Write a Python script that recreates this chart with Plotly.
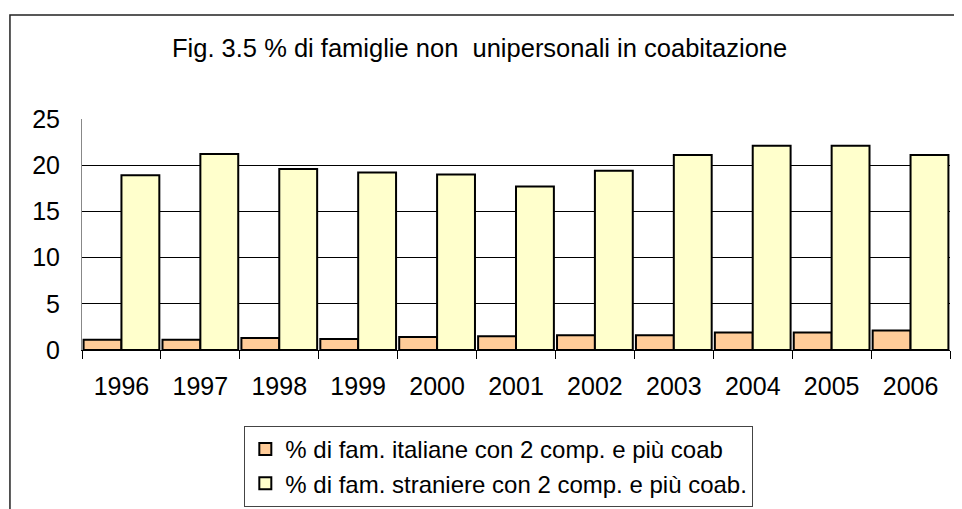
import plotly.graph_objects as go

years = ["1996", "1997", "1998", "1999", "2000", "2001", "2002", "2003", "2004", "2005", "2006"]
italiane = [1.1, 1.1, 1.3, 1.2, 1.4, 1.5, 1.6, 1.6, 1.9, 1.9, 2.1]
straniere = [18.9, 21.2, 19.6, 19.2, 19.0, 17.7, 19.4, 21.1, 22.1, 22.1, 21.1]
name_it = "% di fam. italiane con 2 comp. e più coab"
name_st = "% di fam. straniere con 2 comp. e più coab."
title = "Fig. 3.5 % di famiglie non  unipersonali in coabitazione"

FONT = "Liberation Sans, Arial, sans-serif"

fig = go.Figure()
fig.add_trace(go.Bar(x=years, y=italiane, name=name_it, legendgroup="a",
                     marker=dict(color="#FFCC99", line=dict(color="black", width=2))))
fig.add_trace(go.Bar(x=years, y=straniere, name=name_st, legendgroup="b",
                     marker=dict(color="#FFFFCC", line=dict(color="black", width=2))))

# page has an 8px body margin, so the figure is 8px smaller and margins shifted
fig.update_layout(
    width=954, height=501,
    margin=dict(l=74, r=12, t=111, b=159, autoexpand=False),
    paper_bgcolor="white", plot_bgcolor="white",
    font=dict(family=FONT, size=25, color="black"),
    barmode="group", bargap=0.04, bargroupgap=0,
    showlegend=True,
    legend=dict(x=0.187, y=-0.329, xanchor="left", yanchor="top",
                bordercolor="#444", borderwidth=1, bgcolor="white",
                font=dict(family=FONT, size=24), tracegroupgap=0,
                traceorder="normal"),
    annotations=[dict(text=title, xref="paper", yref="paper", x=0.4585, y=1.307,
                      xanchor="center", yanchor="middle", showarrow=False,
                      font=dict(family=FONT, size=25.5))],
    shapes=[dict(type="rect", xref="paper", yref="paper", x0=-0.083, y0=-0.9,
                 x1=1.1, y1=1.45, line=dict(color="#222", width=1.5), layer="below")],
)
fig.update_xaxes(showline=True, linecolor="black", linewidth=1, ticks="outside",
                 ticklen=8, tickcolor="black", tickson="boundaries",
                 showgrid=False, ticklabelstandoff=14, automargin=False)
fig.update_yaxes(range=[0, 25], dtick=5, showgrid=True, gridcolor="black", gridwidth=1,
                 showline=True, linecolor="#888", linewidth=1, zeroline=False,
                 ticks="", ticklabelstandoff=16, automargin=False)

fig.write_html("out.html", config={"displayModeBar": False})
